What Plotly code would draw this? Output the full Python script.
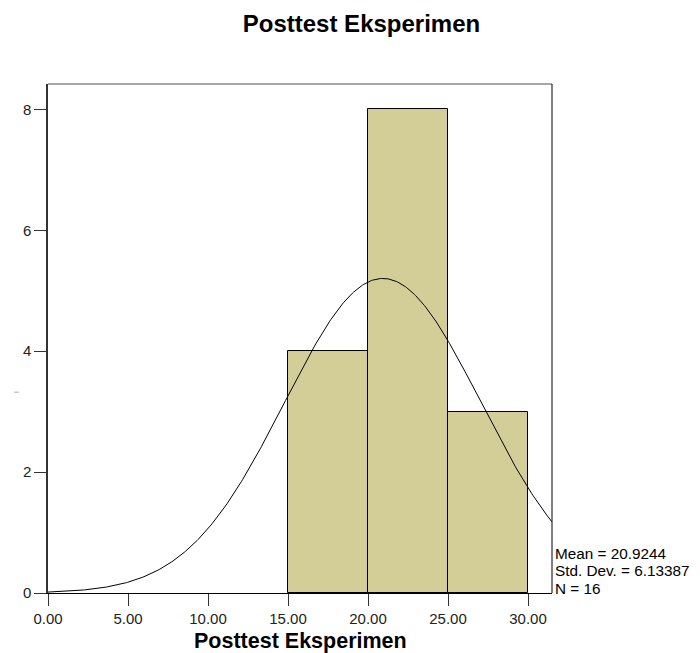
import numpy as np
import plotly.graph_objects as go

# Data
bin_left = [15.0, 20.0, 25.0]
bin_width = 5.0
counts = [4, 8, 3]
mean_val = 20.9244
std_val = 6.13387
n_val = 16
x_ticks = [0, 5, 10, 15, 20, 25, 30]
x_tick_labels = ["0.00", "5.00", "10.00", "15.00", "20.00", "25.00", "30.00"]
y_ticks = [0, 2, 4, 6, 8]
stats_lines = [f"Mean = {mean_val}", f"Std. Dev. = {std_val}", f"N = {n_val}"]

bar_color = "rgb(211,206,152)"
FONT = "Liberation Sans, Arial"

centers = [b + bin_width / 2 for b in bin_left]

xc = np.linspace(0, 31.5, 400)
yc = n_val * bin_width / (std_val * np.sqrt(2 * np.pi)) * np.exp(-0.5 * ((xc - mean_val) / std_val) ** 2)

fig = go.Figure()
fig.add_trace(go.Bar(
    x=centers, y=counts, width=bin_width,
    marker=dict(color=bar_color, line=dict(color="black", width=1)),
    showlegend=False, hoverinfo="skip",
))
fig.add_trace(go.Scatter(
    x=xc, y=yc, mode="lines", line=dict(color="black", width=1),
    showlegend=False, hoverinfo="skip",
))

annotations = [
    dict(text="<b>Posttest Eksperimen</b>", xref="paper", yref="paper",
         x=0.5, y=0, yshift=-48, xanchor="center", yanchor="middle",
         showarrow=False, font=dict(family=FONT, size=21.5, color="black")),
    dict(text="l", xref="paper", yref="paper", x=0, xshift=-31, y=0.395,
         xanchor="center", yanchor="middle", textangle=-90, showarrow=False,
         font=dict(family=FONT, size=8, color="#999")),
]
for i, line in enumerate(stats_lines):
    annotations.append(dict(
        text=line, xref="paper", yref="paper", x=1, y=0, xshift=1,
        yshift=40 - 17.5 * i, xanchor="left", yanchor="middle", align="left",
        showarrow=False, font=dict(family=FONT, size=15.3, color="black")))

fig.update_layout(
    width=692, height=645,
    margin=dict(l=40, r=148, t=76, b=60),
    paper_bgcolor="white", plot_bgcolor="white",
    font=dict(family=FONT, size=15, color="#222"),
    bargap=0,
    title=dict(text="<b>Posttest Eksperimen</b>", x=0.622, xref="paper",
               y=1 - 16 / 645, yref="container", xanchor="center", yanchor="middle",
               font=dict(family=FONT, size=24, color="black")),
    xaxis=dict(range=[0, 31.5], tickvals=x_ticks, ticktext=x_tick_labels,
               ticks="outside", ticklen=12, tickcolor="#333", tickwidth=1,
               showline=True, linecolor="black", linewidth=1, mirror=False,
               showgrid=False, zeroline=False, fixedrange=True),
    yaxis=dict(range=[0, 8.42], tickvals=y_ticks, ticks="outside", ticklen=12,
               tickcolor="#333", tickwidth=1,
               showline=True, linecolor="#333", linewidth=1.5, mirror=False,
               showgrid=False, zeroline=False),
    shapes=[
        dict(type="line", xref="paper", yref="paper", x0=0, x1=1, y0=1, y1=1,
             line=dict(color="#888", width=1.5)),
        dict(type="line", xref="paper", yref="paper", x0=1, x1=1, y0=0, y1=1,
             line=dict(color="black", width=1)),
    ],
    annotations=annotations,
)

fig.write_html("out.html")
